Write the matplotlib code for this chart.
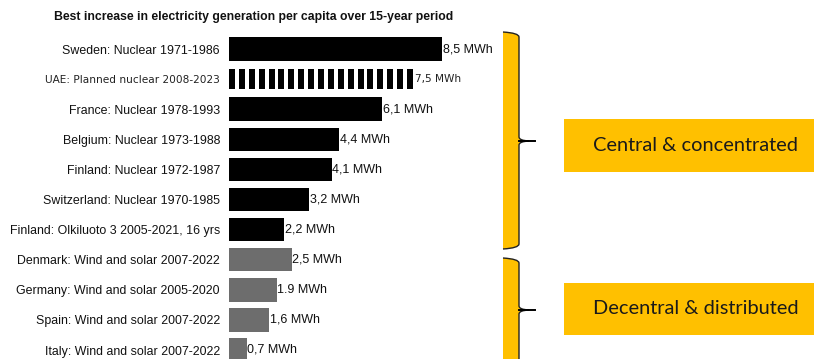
import matplotlib
matplotlib.use("Agg")
import matplotlib.pyplot as plt
import numpy as np
from matplotlib.path import Path
from matplotlib.patches import PathPatch, Rectangle

# ---- data -------------------------------------------------------------
categories = [
    "Sweden: Nuclear 1971-1986",
    "UAE: Planned nuclear 2008-2023",
    "France: Nuclear 1978-1993",
    "Belgium: Nuclear 1973-1988",
    "Finland: Nuclear 1972-1987",
    "Switzerland: Nuclear 1970-1985",
    "Finland: Olkiluoto 3 2005-2021, 16 yrs",
    "Denmark: Wind and solar 2007-2022",
    "Germany: Wind and solar 2005-2020",
    "Spain: Wind and solar 2007-2022",
    "Italy: Wind and solar 2007-2022",
]
values = [8.5, 7.5, 6.1, 4.4, 4.1, 3.2, 2.2, 2.5, 1.9, 1.6, 0.7]
value_labels = ["8,5 MWh", "7,5 MWh", "6,1 MWh", "4,4 MWh", "4,1 MWh",
                "3,2 MWh", "2,2 MWh", "2,5 MWh", "1.9 MWh", "1,6 MWh",
                "0,7 MWh"]
kinds = ["built", "planned", "built", "built", "built", "built", "built",
         "renewable", "renewable", "renewable", "renewable"]
group_names = ["Central & concentrated", "Decentral & distributed"]
title = "Best increase in electricity generation per capita over 15-year period"

# ---- styling ----------------------------------------------------------
W, H = 814, 359
YELLOW = "#FFC000"
GRAY = "#6d6d6d"
TEXT = "#111111"
label_font = "Liberation Sans"
planned_font = dict(family="DejaVu Sans", fontweight="medium", fontsize=7.6)

fig = plt.figure(figsize=(W / 100, H / 100), dpi=100)

# bar axes: x=0 sits at pixel 229, 1 MWh ~ 25 px; rows are ~30 px apart
x0_px, px_per_unit = 229, 25.06
row0_px, row_px = 49, 30.1
ax = fig.add_axes([x0_px / W, 0, (W - x0_px) / W, 1])
ax.set_xlim(0, (W - x0_px) / px_per_unit)
ax.set_ylim((H - row0_px) / row_px, -row0_px / row_px)
for s in ax.spines.values():
    s.set_visible(False)
ax.set_xticks([])
ax.patch.set_alpha(0)

rows = np.arange(len(categories))
for i, (v, kind, lab) in enumerate(zip(values, kinds, value_labels)):
    if kind == "planned":
        n = 19
        step = v / n
        ax.barh([i] * n, [step * 0.6] * n, left=np.arange(n) * step,
                height=0.64, color="black", linewidth=0)
        ax.text(v - 0.08, i, lab, va="center", ha="left",
                color="#222222", **planned_font)
    else:
        ax.barh(i, v, height=0.78,
                color="black" if kind == "built" else GRAY, linewidth=0)
        ax.text(v + 0.03, i, lab, va="center", ha="left",
                fontsize=9, family=label_font, color=TEXT)

ax.set_yticks(rows)
ax.set_yticklabels(categories, fontsize=8.9, family=label_font, color=TEXT)
ax.tick_params(axis="y", length=0, pad=6.5)
uae = ax.get_yticklabels()[1]
uae.set_fontfamily(planned_font["family"])
uae.set_fontweight(planned_font["fontweight"])
uae.set_fontsize(planned_font["fontsize"])
uae.set_color("#222222")

fig.text(254 / W, 1 - 17 / H, title, ha="center", va="center",
         fontsize=8.8, fontweight="bold", family=label_font, color=TEXT)


# ---- group braces and boxes (pixel positions, top-left origin) --------
def fp(x, y):
    return (x / W, 1 - y / H)


def brace(top, bottom, mid, left=503, right=519, tip=535, r=5):
    outline = [fp(left, top), fp(right, top + r * 0.2), fp(right, top + r),
               fp(right, mid - 4), fp(right, mid - 0.5), fp(tip - 6, mid),
               fp(right, mid + 0.5), fp(right, mid + 4),
               fp(right, bottom - r), fp(right, bottom - r * 0.2),
               fp(left, bottom)]
    codes = [Path.MOVETO, Path.CURVE3, Path.CURVE3,
             Path.LINETO, Path.CURVE3, Path.CURVE3,
             Path.CURVE3, Path.CURVE3,
             Path.LINETO, Path.CURVE3, Path.CURVE3]
    fig.patches.append(PathPatch(
        Path(outline + [fp(left, top)], codes + [Path.CLOSEPOLY]),
        facecolor=YELLOW, edgecolor="none", transform=fig.transFigure))
    fig.patches.append(PathPatch(Path(outline, codes), facecolor="none",
                                 edgecolor="#222222", linewidth=1.0,
                                 transform=fig.transFigure))
    fig.lines.append(plt.Line2D([right / W, tip / W], [1 - mid / H] * 2,
                                color="black", linewidth=1.4,
                                transform=fig.transFigure))


brace(32, 249, 141)
brace(258, 420, 310)

for name, (top, bot) in zip(group_names, [(119, 172), (283, 335)]):
    fig.patches.append(Rectangle(fp(564, bot), (W - 564 + 5) / W,
                                 (bot - top) / H, facecolor=YELLOW,
                                 edgecolor="none", transform=fig.transFigure))
    fig.text(593 / W, 1 - ((top + bot) / 2) / H, name, ha="left",
             va="center", fontsize=14.4, family="Lato", color="#1a1a1a")

fig.savefig("out.png", dpi=100)
